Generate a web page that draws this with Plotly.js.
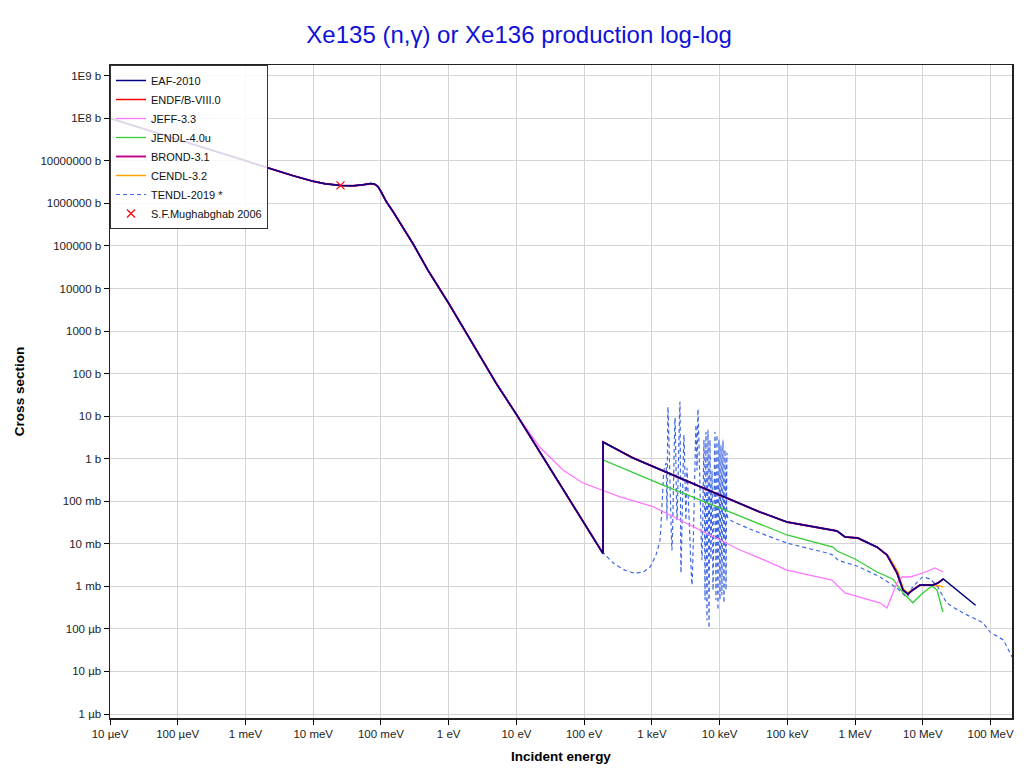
<!DOCTYPE html>
<html>
<head>
<meta charset="utf-8">
<script src="https://cdn.plot.ly/plotly-3.0.1.min.js"></script>
<style>html,body{margin:0;padding:0;background:#fff;}#chart{width:1024px;height:772px;}</style>
</head>
<body>
<div id="chart"></div>
<script>
// ---- Data (energy in eV, cross section in barns) ----
// Common thermal / resolved-resonance part shared by all evaluations
const lowE  = [1e-5, 1e-4, 1e-3, 0.005, 0.01, 0.015, 0.0253, 0.04, 0.055, 0.07, 0.08, 0.09, 0.1, 0.12, 0.15, 0.2, 0.3, 0.5, 1, 2, 5, 8];
const lowXS = [1.0e8, 3.16e7, 1.0e7, 4.5e6, 3.3e6, 2.9e6, 2.65e6, 2.6e6, 2.75e6, 2.92e6, 2.85e6, 2.5e6, 1.9e6, 1.1e6, 6.5e5, 3.2e5, 1.1e5, 2.6e4, 4.5e3, 7.0e2, 6.0e1, 1.9e1];

// Tail of resolved range (EAF, ENDF/B, JENDL, BROND, CENDL)
const rrE  = [10, 20, 50, 100, 190];
const rrXS = [11, 1.87, 0.18, 0.0306, 0.0059];

// Smooth range shared by EAF-2010, ENDF/B-VIII.0, BROND-3.1 (up to 20 MeV)
const mainE  = [190, 526, 5100, 39000, 98600, 471000, 540000, 708000, 1.1e6, 1.26e6, 2.1e6, 2.95e6, 4.15e6, 5.1e6, 6.0e6, 7.1e6, 9.1e6, 1.41e7, 1.67e7, 2.0e7];
const mainXS = [2.47, 1.04, 0.222, 0.056, 0.0325, 0.0211, 0.020, 0.0145, 0.0137, 0.0123, 0.0084, 0.00546, 0.00206, 8.2e-4, 6.6e-4, 8.2e-4, 1.08e-3, 1.08e-3, 1.2e-3, 1.49e-3];

// EAF-2010 extends beyond 20 MeV
const eafTailE  = [3.5e7, 6.0e7];
const eafTailXS = [7.4e-4, 3.6e-4];

// CENDL-3.2 smooth range
const cendlE  = [190, 526, 5100, 39000, 98600, 471000, 540000, 708000, 1.1e6, 1.26e6, 2.1e6, 3.1e6, 4.3e6, 5.1e6, 6.0e6, 7.1e6, 9.1e6, 1.41e7, 1.67e7, 2.0e7];
const cendlXS = [2.47, 1.04, 0.222, 0.056, 0.0325, 0.0211, 0.020, 0.0145, 0.0137, 0.0123, 0.0084, 0.0052, 0.0022, 9.0e-4, 7.0e-4, 8.4e-4, 1.05e-3, 1.08e-3, 1.05e-3, 9.7e-4];

// JEFF-3.3 (diverges above ~8 eV)
const jeffE  = [10.2, 22, 48.6, 96, 190, 338, 1040, 20000, 39000, 98600, 455000, 708000, 2.3e6, 2.95e6, 4.15e6, 4.9e6, 6.5e6, 1.0e7, 1.51e7, 1.98e7];
const jeffXS = [10.6, 1.88, 0.542, 0.268, 0.174, 0.126, 0.0745, 0.00714, 0.00463, 0.00242, 0.00141, 7.0e-4, 4.1e-4, 3.1e-4, 1.2e-3, 1.66e-3, 1.66e-3, 2.06e-3, 2.7e-3, 2.17e-3];

// JENDL-4.0u smooth range
const jendlE  = [190, 1320, 28000, 98600, 471000, 540000, 995000, 2.1e6, 3.6e6, 5.1e6, 7.1e6, 1.0e7, 1.36e7, 1.62e7, 1.98e7];
const jendlXS = [0.933, 0.255, 0.0362, 0.0161, 0.0084, 0.00677, 0.0044, 0.00217, 0.00149, 7.0e-4, 4.1e-4, 7.0e-4, 1.02e-3, 8.2e-4, 2.5e-4];

// TENDL-2019: tail, resonance structure 1.3-13 keV, smooth range to 200 MeV
const tendlLowE  = [10, 20, 50, 100, 150, 190, 266, 400, 562, 750, 937, 1150, 1315];
const tendlLowXS = [11, 1.87, 0.18, 0.0306, 0.0105, 0.0062, 3.6e-3, 2.4e-3, 2.06e-3, 2.2e-3, 2.85e-3, 5.5e-3, 0.0123];
const tendlResE  = [1507, 1614, 1668, 1726, 1977, 2193, 2344, 2594, 2685, 2972, 3184, 3296, 3908, 4475, 4634, 4786, 5483, 5875, 6081, 6281, 6501, 6730, 6966, 7194, 7447, 7709, 7980, 8531, 8831, 9141, 9441, 9772, 10115, 10471, 10814, 11194, 11588, 11995, 12417, 12823, 13275];
const tendlResXS = [0.54, 0.79, 0.036, 16.4, 0.0071, 9.05, 0.036, 21.5, 0.00206, 3.6, 0.036, 0.60, 0.00108, 6.2, 0.54, 14.7, 0.0042, 2.75, 4.8e-4, 4.24, 1.6e-4, 4.73, 1.05e-4, 2.75, 0.0042, 0.54, 8.2e-4, 4.24, 4.8e-4, 3.6, 2.8e-4, 2.75, 4.8e-4, 2.1, 6.3e-4, 2.75, 4.1e-4, 1.6, 8.2e-4, 1.36, 0.04];
const tendlHighE  = [28000, 98600, 471000, 558000, 1.06e6, 2.33e6, 4.15e6, 5.83e6, 7.1e6, 1.0e7, 1.27e7, 1.62e7, 2.27e7, 3.9e7, 7.7e7, 9.8e7, 1.52e8, 2.07e8];
const tendlHighXS = [0.0223, 0.01045, 5.46e-3, 4.16e-3, 3.0e-3, 1.66e-3, 9.1e-4, 5.6e-4, 9.7e-4, 1.66e-3, 1.49e-3, 1.02e-3, 4.1e-4, 2.37e-4, 1.38e-4, 8.5e-5, 5.5e-5, 2.2e-5];

// Measured point
const expE  = [0.0253];
const expXS = [2.65e6];

// Tick labels
const xTickVals = [1e-5, 1e-4, 1e-3, 1e-2, 1e-1, 1, 10, 100, 1e3, 1e4, 1e5, 1e6, 1e7, 1e8];
const xTickText = ['10 µeV', '100 µeV', '1 meV', '10 meV', '100 meV', '1 eV', '10 eV', '100 eV', '1 keV', '10 keV', '100 keV', '1 MeV', '10 MeV', '100 MeV'];
const yTickVals = [1e-6, 1e-5, 1e-4, 1e-3, 1e-2, 1e-1, 1, 10, 100, 1e3, 1e4, 1e5, 1e6, 1e7, 1e8, 1e9];
const yTickText = ['1 µb', '10 µb', '100 µb', '1 mb', '10 mb', '100 mb', '1 b', '10 b', '100 b', '1000 b', '10000 b', '100000 b', '1000000 b', '10000000 b', '1E8 b', '1E9 b'];

// ---- Build traces ----
const cat = (...a) => [].concat(...a);
const FONT = 'Liberation Sans, Arial, Helvetica, sans-serif';

const tTENDL = {name: 'TENDL-2019 *', legendrank: 7, x: cat(lowE, tendlLowE, tendlResE, tendlHighE), y: cat(lowXS, tendlLowXS, tendlResXS, tendlHighXS),
  mode: 'lines', line: {color: '#4169e1', width: 1.2, dash: '4px,3px', shape: 'spline', smoothing: 0.4}};
const tCENDL = {name: 'CENDL-3.2', legendrank: 6, x: cat(lowE, rrE, cendlE), y: cat(lowXS, rrXS, cendlXS),
  mode: 'lines', line: {color: '#ffa500', width: 1.5}};
const tJENDL = {name: 'JENDL-4.0u', legendrank: 4, x: cat(lowE, rrE, jendlE), y: cat(lowXS, rrXS, jendlXS),
  mode: 'lines', line: {color: '#33cc33', width: 1.3}};
const tJEFF = {name: 'JEFF-3.3', legendrank: 3, x: cat(lowE, jeffE), y: cat(lowXS, jeffXS),
  mode: 'lines', line: {color: '#ff77ff', width: 1.3}};
const tENDF = {name: 'ENDF/B-VIII.0', legendrank: 2, x: cat(lowE, rrE, mainE), y: cat(lowXS, rrXS, mainXS),
  mode: 'lines', line: {color: '#ff0000', width: 1.5}};
const tBROND = {name: 'BROND-3.1', legendrank: 5, x: cat(lowE, rrE, mainE), y: cat(lowXS, rrXS, mainXS),
  mode: 'lines', line: {color: '#c0008c', width: 1.9}};
const tEAF = {name: 'EAF-2010', legendrank: 1, x: cat(lowE, rrE, mainE, eafTailE), y: cat(lowXS, rrXS, mainXS, eafTailXS),
  mode: 'lines', line: {color: '#000080', width: 1.5}};
const tEXP = {name: 'S.F.Mughabghab 2006', legendrank: 8, x: expE, y: expXS, mode: 'markers',
  marker: {symbol: 'x-thin-open', size: 8, color: '#ff0000', line: {color: '#ff0000', width: 1.2}}};

const data = [tTENDL, tCENDL, tJENDL, tJEFF, tENDF, tBROND, tEAF, tEXP];

const axisCommon = {
  type: 'log', showgrid: true, gridcolor: '#d4d4d4', gridwidth: 1,
  ticks: 'outside', ticklen: 5, tickcolor: '#000', tickwidth: 1,
  showline: true, linecolor: '#222', linewidth: 1.5, mirror: true,
  zeroline: false, tickfont: {family: FONT, size: 11.5, color: '#222'}
};

const layout = {
  width: 1024, height: 772,
  paper_bgcolor: '#fff', plot_bgcolor: '#fff',
  margin: {l: 110, r: 12, t: 65, b: 54},
  title: {text: 'Xe135 (n,γ) or Xe136 production log-log', x: 0.507, xref: 'container', xanchor: 'center',
          y: 0.955, yref: 'container', yanchor: 'middle', font: {family: FONT, size: 24, color: '#1010d8'}},
  xaxis: Object.assign({}, axisCommon, {
    range: [-5, 8.316], tickvals: xTickVals, ticktext: xTickText,
    title: {text: 'Incident energy', font: {family: FONT, size: 13.5, color: '#000', weight: 'bold'}, standoff: 12}
  }),
  yaxis: Object.assign({}, axisCommon, {
    range: [-6.094, 9.253], tickvals: yTickVals, ticktext: yTickText,
    title: {text: 'Cross section', font: {family: FONT, size: 13.5, color: '#000', weight: 'bold'}, standoff: 12}
  }),
  showlegend: true,
  legend: {x: 0, y: 1, xanchor: 'left', yanchor: 'top', bgcolor: 'rgba(255,255,255,0.85)',
           bordercolor: '#333', borderwidth: 1, font: {family: FONT, size: 11, color: '#111'},
           itemwidth: 30, tracegroupgap: 0}
};

Plotly.newPlot('chart', data, layout, {displayModeBar: false, staticPlot: true});
</script>
</body>
</html>
